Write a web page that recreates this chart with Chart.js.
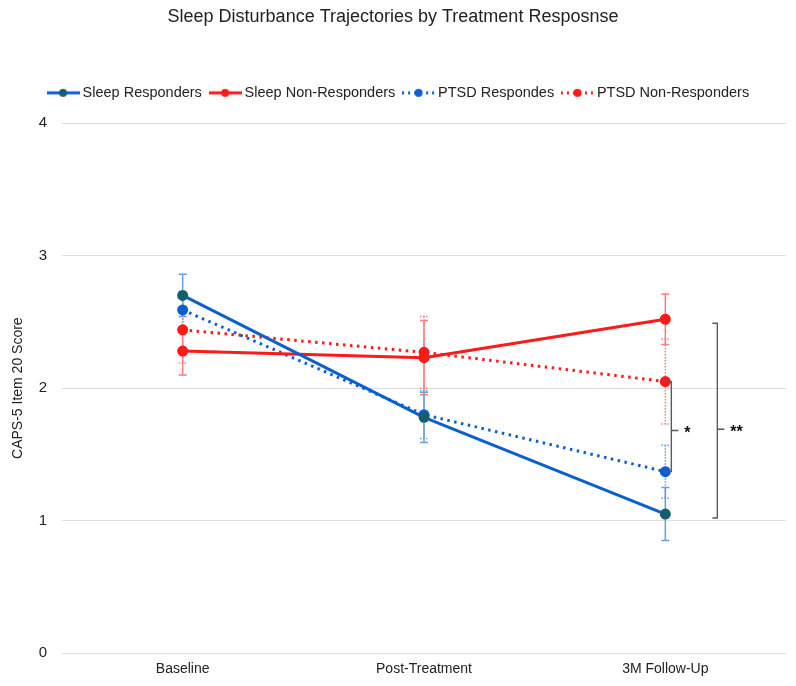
<!DOCTYPE html>
<html>
<head>
<meta charset="utf-8">
<script src="https://cdn.jsdelivr.net/npm/chart.js@4"></script>
<style>
  html, body { margin: 0; padding: 0; background: #fff; }
  #wrap { width: 796px; height: 686px; }
</style>
</head>
<body>
<div id="wrap"><canvas id="chart"></canvas></div>
<script>
const categories = ['Baseline', 'Post-Treatment', '3M Follow-Up'];
const seriesNames = ['Sleep Responders', 'Sleep Non-Responders', 'PTSD Respondes', 'PTSD Non-Responders'];

const sleepResponders = [2.70, 1.78, 1.05];
const sleepNonResponders = [2.28, 2.23, 2.52];
const ptsdResponders = [2.59, 1.80, 1.37];
const ptsdNonResponders = [2.44, 2.27, 2.05];

// error bar half-widths (same units as the scores)
const sleepRespErr = [0.16, 0.19, 0.20];
const sleepNonRespErr = [0.18, 0.28, 0.19];
const ptsdRespErr = [0.14, 0.18, 0.20];
const ptsdNonRespErr = [0.25, 0.27, 0.32];

const yTicks = [0, 1, 2, 3, 4];

// significance brackets at 3M Follow-Up: [from, to, tick at, label]
const brackets = [
    [2.05, 1.37, 1.68, '*'],
    [2.49, 1.02, 1.69, '**']
];

const BLUE = '#0b5fd0';
const TEAL = '#155f6c';
const RED = '#ff1a1a';
const BLUE_ERR = '#5f9fe3';
const RED_ERR = '#ff7b7b';
const FONT = "'Liberation Sans', Arial, sans-serif";

// little line + dot samples for the legend
function legendIcon(color, dotColor, dotted) {
    const c = document.createElement('canvas');
    c.width = 33;
    c.height = 10;
    const g = c.getContext('2d');
    g.strokeStyle = color;
    g.lineWidth = 3;
    if (dotted) g.setLineDash([2, 4]);
    g.beginPath();
    g.moveTo(0, 5);
    g.lineTo(33, 5);
    g.stroke();
    g.fillStyle = dotColor;
    g.beginPath();
    g.arc(16.5, 5, 4, 0, Math.PI * 2);
    g.fill();
    return c;
}

function makeSet(label, data, errs, color, dotColor, errColor, dotted) {
    return {
        label: label,
        data: data,
        errs: errs,
        errColor: errColor,
        borderColor: color,
        backgroundColor: dotColor,
        pointBackgroundColor: dotColor,
        pointBorderColor: dotColor,
        pointRadius: 4,
        pointHoverRadius: 5,
        borderWidth: 3,
        borderDash: dotted ? [2.5, 4.5] : [],
        tension: 0,
        fill: false,
        icon: legendIcon(color, dotColor, dotted)
    };
}

// extra room under the legend, and nudge it right a bit
const legendTweak = {
    id: 'legendTweak',
    beforeInit(chart) {
        const fit = chart.legend.fit;
        chart.legend.fit = function () {
            fit.call(this);
            this.height += 13;
        };
    },
    afterLayout(chart) {
        chart.legend.left += 7;
        chart.legend.right += 7;
    }
};

const errorBars = {
    id: 'errorBars',
    beforeDatasetsDraw(chart) {
        const ctx = chart.ctx;
        const y = chart.scales.y;
        chart.data.datasets.forEach((ds, i) => {
            const meta = chart.getDatasetMeta(i);
            ctx.save();
            ctx.strokeStyle = ds.errColor;
            ctx.lineWidth = 1.5;
            ctx.setLineDash(ds.borderDash.length ? [1.5, 1.5] : []);
            meta.data.forEach((pt, j) => {
                const top = y.getPixelForValue(ds.data[j] + ds.errs[j]);
                const bot = y.getPixelForValue(ds.data[j] - ds.errs[j]);
                ctx.beginPath();
                ctx.moveTo(pt.x, top);
                ctx.lineTo(pt.x, bot);
                ctx.moveTo(pt.x - 4, top);
                ctx.lineTo(pt.x + 4, top);
                ctx.moveTo(pt.x - 4, bot);
                ctx.lineTo(pt.x + 4, bot);
                ctx.stroke();
            });
            ctx.restore();
        });
    },
    afterDatasetsDraw(chart) {
        const ctx = chart.ctx;
        const x = chart.scales.x;
        const y = chart.scales.y;
        const cx = x.getPixelForValue(2);
        const offsets = [6, 52];
        ctx.save();
        ctx.strokeStyle = '#5a5a5a';
        ctx.lineWidth = 1.4;
        ctx.lineJoin = 'round';
        ctx.fillStyle = '#111';
        ctx.font = 'bold 16px ' + FONT;
        ctx.textBaseline = 'middle';
        brackets.forEach((b, k) => {
            const bx = cx + offsets[k];
            const t = y.getPixelForValue(b[0]);
            const btm = y.getPixelForValue(b[1]);
            const mid = y.getPixelForValue(b[2]);
            ctx.beginPath();
            ctx.moveTo(bx - 5, t);
            ctx.lineTo(bx, t);
            ctx.lineTo(bx, btm);
            ctx.lineTo(bx - 5, btm);
            ctx.moveTo(bx, mid);
            ctx.lineTo(bx + 7, mid);
            ctx.stroke();
            ctx.fillText(b[3], bx + 13, mid + 3);
        });
        ctx.restore();
    }
};

new Chart(document.getElementById('chart'), {
    type: 'line',
    data: {
        labels: categories,
        datasets: [
            makeSet(seriesNames[0], sleepResponders, sleepRespErr, BLUE, TEAL, BLUE_ERR, false),
            makeSet(seriesNames[1], sleepNonResponders, sleepNonRespErr, RED, RED, RED_ERR, false),
            makeSet(seriesNames[2], ptsdResponders, ptsdRespErr, BLUE, BLUE, BLUE_ERR, true),
            makeSet(seriesNames[3], ptsdNonResponders, ptsdNonRespErr, RED, RED, RED_ERR, true)
        ]
    },
    options: {
        responsive: true,
        maintainAspectRatio: false,
        animation: false,
        layout: { padding: { left: 0, right: 10, bottom: 8 } },
        plugins: {
            title: {
                display: true,
                text: 'Sleep Disturbance Trajectories by Treatment Resposnse',
                color: '#222',
                font: { family: FONT, size: 18, weight: 'normal' },
                padding: { top: 6, bottom: 47 }
            },
            legend: {
                display: true,
                labels: {
                    color: '#222',
                    font: { family: FONT, size: 14.5 },
                    usePointStyle: true,
                    pointStyleWidth: 24.5,
                    boxHeight: 10,
                    padding: 11,
                    generateLabels(chart) {
                        return chart.data.datasets.map((ds, i) => ({
                            text: ds.label,
                            pointStyle: ds.icon,
                            fillStyle: ds.borderColor,
                            strokeStyle: ds.borderColor,
                            lineWidth: 0,
                            fontColor: '#222',
                            hidden: false,
                            datasetIndex: i
                        }));
                    }
                }
            },
            tooltip: { enabled: false }
        },
        scales: {
            x: {
                offset: true,
                grid: { display: false },
                border: { display: false },
                ticks: { color: '#222', font: { family: FONT, size: 14 }, padding: 0 }
            },
            y: {
                min: 0,
                max: 4,
                afterBuildTicks(scale) {
                    scale.ticks = yTicks.map(v => ({ value: v }));
                },
                afterFit(scale) {
                    scale.width = 62;
                },
                grid: { color: '#dedede', drawTicks: false },
                border: { display: false },
                ticks: { color: '#222', font: { family: FONT, size: 15 }, padding: 15 },
                title: {
                    display: true,
                    text: 'CAPS-5 Item 20 Score',
                    color: '#222',
                    font: { family: FONT, size: 14 },
                    padding: { top: 10, bottom: 0 }
                }
            }
        }
    },
    plugins: [legendTweak, errorBars]
});
</script>
</body>
</html>
